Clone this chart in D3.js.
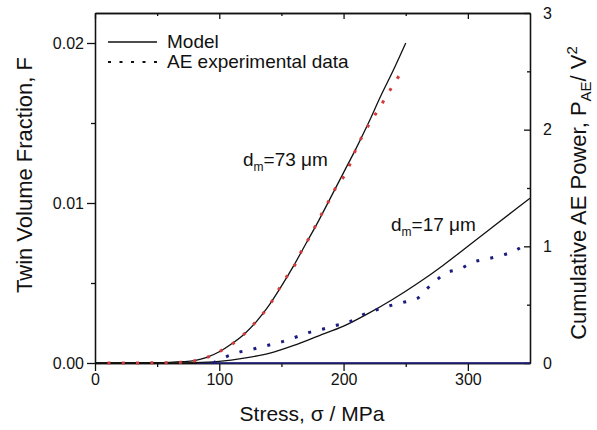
<!DOCTYPE html>
<html>
<head>
<script src="https://d3js.org/d3.v7.min.js"></script>
<style>
body { margin: 0; background: #fff; }
svg text { font-family: "Liberation Sans", Arial, sans-serif; fill: #111; }
.axis path, .axis line { stroke: #111; stroke-width: 1.3; }
.axis text { font-size: 16px; }
</style>
</head>
<body>
<div id="chart"></div>
<script>
// model curves, twin volume fraction F vs stress (MPa)
var model73Stress = [0, 50, 60, 70, 80, 90, 100, 110, 120, 130, 140, 150, 160, 170, 180, 190, 200, 210, 220, 230, 240, 250];
var model73F = [0, 0.00002, 0.00004, 0.00008, 0.00015, 0.00035, 0.0007, 0.0012, 0.0018, 0.0026, 0.0036, 0.0048, 0.0061, 0.0075, 0.0089, 0.0104, 0.0119, 0.0134, 0.0150, 0.0167, 0.0183, 0.0200];

var model17Stress = [0, 60, 80, 100, 120, 140, 160, 180, 200, 220, 240, 260, 280, 300, 320, 340, 350];
var model17F = [0, 0, 0.00002, 0.0001, 0.0003, 0.0006, 0.0011, 0.0017, 0.0023, 0.0031, 0.0040, 0.0050, 0.0061, 0.0073, 0.0085, 0.0097, 0.0103];

// AE experimental data, cumulative power P_AE (V^2), right axis
var ae73Stress = [10, 30, 50, 58, 69, 80.5, 91.7, 102.4, 111.8, 120.7, 128.7, 136.8, 143.4, 149.4, 155.5, 162.3, 167.1, 173, 178.4, 183.7, 189.6, 194.9, 201.9, 206.5, 211, 216.4, 222.3, 228.5, 234.7, 240.8, 246.7];
var ae73P = [0, 0, 0.002, 0.003, 0.006, 0.02, 0.054, 0.111, 0.174, 0.255, 0.345, 0.446, 0.546, 0.66, 0.76, 0.868, 0.983, 1.083, 1.197, 1.303, 1.417, 1.526, 1.626, 1.74, 1.86, 1.969, 2.077, 2.18, 2.291, 2.397, 2.497];

var ae17Stress = [95, 104.6, 115.8, 126.5, 137.6, 148.8, 160.3, 171.6, 182.9, 194.4, 205.1, 215, 226.1, 237.3, 248, 259.6, 266.9, 274.3, 282.1, 293.6, 303.9, 315.1, 326.4, 337.3, 346.5];
var ae17P = [0, 0.049, 0.092, 0.117, 0.148, 0.177, 0.217, 0.26, 0.289, 0.323, 0.354, 0.411, 0.454, 0.491, 0.52, 0.555, 0.634, 0.705, 0.769, 0.806, 0.863, 0.891, 0.92, 0.96, 1.017];
var ae17BaseStress = [82, 350];
var ae17BaseP = [0, 0];

var xTicks = [0, 100, 200, 300];
var xMinor = [50, 150, 250];
var yLeftTicks = [0, 0.01, 0.02];
var yLeftMinor = [0.005, 0.015];
var yRightTicks = [0, 1, 2, 3];
var yRightMinor = [0.5, 1.5, 2.5];

var width = 597, height = 430;
var plotL = 95, plotR = 530, plotT = 13, plotB = 363;

var svg = d3.select("#chart").append("svg")
    .attr("width", width)
    .attr("height", height);

var x = d3.scaleLinear().domain([0, 350]).range([plotL, plotR]);
var yL = d3.scaleLinear().domain([0, 0.021875]).range([plotB, plotT]);
var yR = d3.scaleLinear().domain([0, 3]).range([plotB, plotT]);

// axes
svg.append("g").attr("class", "axis")
    .attr("transform", "translate(0," + plotB + ")")
    .call(d3.axisBottom(x).tickValues(xTicks).tickSize(8).tickSizeOuter(0).tickPadding(3).tickFormat(d3.format("d")));
svg.append("g").attr("class", "axis")
    .attr("transform", "translate(0," + plotB + ")")
    .call(d3.axisBottom(x).tickValues(xMinor).tickSize(4).tickSizeOuter(0).tickFormat(""));
svg.append("g").attr("class", "axis")
    .attr("transform", "translate(0," + plotT + ")")
    .call(d3.axisTop(x).tickValues(xTicks).tickSize(-6).tickSizeOuter(0).tickFormat(""));
svg.append("g").attr("class", "axis")
    .attr("transform", "translate(0," + plotT + ")")
    .call(d3.axisTop(x).tickValues(xMinor).tickSize(-3).tickSizeOuter(0).tickFormat(""));

svg.append("g").attr("class", "axis")
    .attr("transform", "translate(" + plotL + ",0)")
    .call(d3.axisLeft(yL).tickValues(yLeftTicks).tickSize(8).tickSizeOuter(0).tickPadding(3).tickFormat(d3.format(".2f")));
svg.append("g").attr("class", "axis")
    .attr("transform", "translate(" + plotL + ",0)")
    .call(d3.axisLeft(yL).tickValues(yLeftMinor).tickSize(4).tickSizeOuter(0).tickFormat(""));

svg.append("g").attr("class", "axis")
    .attr("transform", "translate(" + plotR + ",0)")
    .call(d3.axisRight(yR).tickValues(yRightTicks).tickSize(-6).tickSizeOuter(0).tickPadding(13).tickFormat(d3.format("d")));
svg.append("g").attr("class", "axis")
    .attr("transform", "translate(" + plotR + ",0)")
    .call(d3.axisRight(yR).tickValues(yRightMinor).tickSize(-3).tickSizeOuter(0).tickFormat(""));

// curves
var modelLine = d3.line().x(function(d){ return x(d[0]); }).y(function(d){ return yL(d[1]); }).curve(d3.curveMonotoneX);
var aeLine = d3.line().x(function(d){ return x(d[0]); }).y(function(d){ return yR(d[1]); }).curve(d3.curveMonotoneX);

svg.append("path")
    .attr("d", aeLine(d3.zip(ae17BaseStress, ae17BaseP)))
    .attr("fill", "none").attr("stroke", "#1c1c80").attr("stroke-width", 1.6);

svg.append("path")
    .attr("d", modelLine(d3.zip(model73Stress, model73F)))
    .attr("fill", "none").attr("stroke", "#111").attr("stroke-width", 1.3);
svg.append("path")
    .attr("d", modelLine(d3.zip(model17Stress, model17F)))
    .attr("fill", "none").attr("stroke", "#111").attr("stroke-width", 1.3);

svg.append("path")
    .attr("d", aeLine(d3.zip(ae73Stress, ae73P)))
    .attr("fill", "none").attr("stroke", "#d23b3b").attr("stroke-width", 3)
    .attr("stroke-dasharray", "3,11.3");
svg.append("path")
    .attr("d", aeLine(d3.zip(ae17Stress, ae17P)))
    .attr("fill", "none").attr("stroke", "#1c1c80").attr("stroke-width", 3)
    .attr("stroke-dasharray", "3,11.3");

// legend
svg.append("line").attr("x1", 108).attr("x2", 157).attr("y1", 42).attr("y2", 42)
    .attr("stroke", "#111").attr("stroke-width", 1.5);
svg.append("text").attr("x", 167).attr("y", 48).style("font-size", "19px").text("Model");
svg.append("line").attr("x1", 108).attr("x2", 158).attr("y1", 62).attr("y2", 62)
    .attr("stroke", "#111").attr("stroke-width", 2)
    .attr("stroke-dasharray", "3,8.5");
svg.append("text").attr("x", 167).attr("y", 68).style("font-size", "19px").text("AE experimental data");

// curve annotations
function dLabel(px, py, val) {
    var t = svg.append("text").attr("x", px).attr("y", py).style("font-size", "19px");
    t.append("tspan").text("d");
    t.append("tspan").attr("dy", 5).style("font-size", "12px").text("m");
    t.append("tspan").attr("dy", -5).text("=" + val + " \u03bcm");
}
dLabel(243, 166, 73);
dLabel(391, 231, 17);

// axis titles
svg.append("text")
    .attr("x", 312).attr("y", 421)
    .attr("text-anchor", "middle")
    .style("font-size", "21px")
    .text("Stress, \u03c3 / MPa");

svg.append("text")
    .attr("transform", "translate(32,175) rotate(-90)")
    .attr("text-anchor", "middle")
    .style("font-size", "22px")
    .text("Twin Volume Fraction, F");

var rt = svg.append("text")
    .attr("transform", "translate(586,193) rotate(-90)")
    .attr("text-anchor", "middle")
    .style("font-size", "22px");
rt.append("tspan").text("Cumulative AE Power, P");
rt.append("tspan").attr("dy", 5).style("font-size", "15px").text("AE");
rt.append("tspan").attr("dy", -5).text("/ V");
rt.append("tspan").attr("dy", -9).style("font-size", "15px").text("2");
</script>
</body>
</html>
